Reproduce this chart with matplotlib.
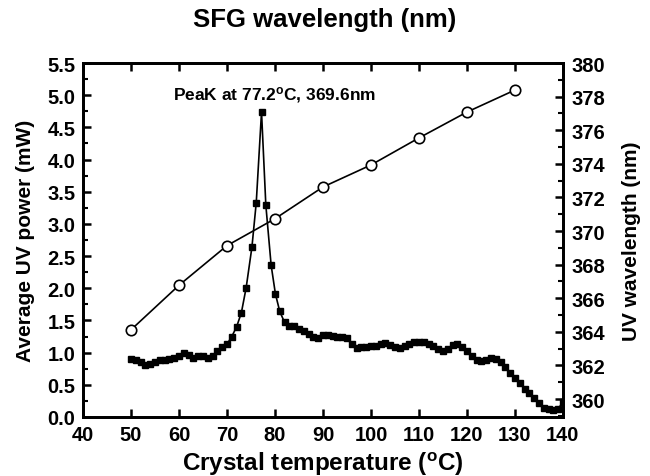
import matplotlib
matplotlib.use("Agg")
import matplotlib.pyplot as plt
from matplotlib.ticker import MultipleLocator

plt.rcParams['font.family'] = ['Liberation Sans', 'DejaVu Sans']
plt.rcParams['font.weight'] = 'bold'
plt.rcParams['mathtext.fontset'] = 'custom'
plt.rcParams['mathtext.rm'] = 'Liberation Sans:bold'
plt.rcParams['mathtext.it'] = 'Liberation Sans:bold'
plt.rcParams['mathtext.bf'] = 'Liberation Sans:bold'

# UV power versus crystal temperature
temperature = [50, 51, 52, 53, 54, 55, 56, 57, 58, 59,
               60, 61, 62, 63, 64, 65, 66, 67, 68, 69,
               70, 71, 72, 73, 74, 75.2, 76.1, 77.2, 78.1, 79.2,
               80.1, 81, 82, 83, 84, 85, 86, 87, 88, 89,
               90, 91, 92, 93, 94, 95, 96, 97, 98, 99,
               100, 101, 102, 103, 104, 105, 106, 107, 108, 109,
               110, 111, 112, 113, 114, 115, 116, 117, 118, 119,
               120, 121, 122, 123, 124, 125, 126, 127, 128, 129,
               130, 131, 132, 133, 134, 135, 136, 137, 138, 139, 140]
power = [0.90, 0.88, 0.85, 0.81, 0.83, 0.86, 0.88, 0.89, 0.90, 0.92,
         0.94, 0.99, 0.97, 0.92, 0.94, 0.95, 0.92, 0.95, 1.02, 1.08,
         1.13, 1.25, 1.40, 1.62, 2.01, 2.64, 3.33, 4.74, 3.29, 2.36,
         1.91, 1.64, 1.47, 1.42, 1.41, 1.37, 1.33, 1.29, 1.25, 1.23,
         1.28, 1.27, 1.26, 1.25, 1.24, 1.22, 1.13, 1.07, 1.08, 1.09,
         1.10, 1.11, 1.13, 1.15, 1.12, 1.09, 1.07, 1.10, 1.13, 1.16,
         1.17, 1.16, 1.13, 1.10, 1.05, 1.02, 1.06, 1.12, 1.13, 1.08,
         1.03, 0.95, 0.88, 0.87, 0.88, 0.92, 0.90, 0.86, 0.77, 0.68,
         0.60, 0.53, 0.44, 0.38, 0.30, 0.22, 0.14, 0.12, 0.11, 0.12, 0.24]

# SFG wavelength versus crystal temperature
wl_temperature = [50, 60, 70, 80, 90, 100, 110, 120, 130]
wavelength = [364.12, 366.77, 369.13, 370.73, 372.62, 373.93, 375.54, 377.08, 378.39]

x_ticks = [40, 50, 60, 70, 80, 90, 100, 110, 120, 130, 140]
left_ticks = [0.0, 0.5, 1.0, 1.5, 2.0, 2.5, 3.0, 3.5, 4.0, 4.5, 5.0, 5.5]
right_ticks = [360, 362, 364, 366, 368, 370, 372, 374, 376, 378, 380]

fig = plt.figure(figsize=(6.5, 4.77), dpi=100)
ax = fig.add_axes([0.1277, 0.1237, 0.7383, 0.7421])
ax2 = ax.twinx()

ax.plot(temperature, power, color='black', lw=1.2, marker='s', ms=4.6,
        mfc='black', mec='black', zorder=3)
ax2.plot(wl_temperature, wavelength, color='black', lw=1.2, marker='o', ms=7.5,
         mfc='white', mec='black', mew=1.2, zorder=3)

ax.set_xlim(40, 140)
ax.set_ylim(0, 5.5)
ax2.set_ylim(358.93, 380)

ax.set_xticks(x_ticks)
ax.set_yticks(left_ticks)
ax.set_yticklabels([f'{v:.1f}' for v in left_ticks])
ax.yaxis.set_minor_locator(MultipleLocator(0.25))
ax2.set_yticks(right_ticks)
ax2.yaxis.set_minor_locator(MultipleLocator(1))

for a in (ax, ax2):
    for s in a.spines.values():
        s.set_linewidth(2.0)

ax.tick_params(axis='x', which='major', direction='in', length=6, width=1.8,
               labelsize=14.5, pad=6, top=True)
ax.tick_params(axis='y', which='major', direction='in', length=6, width=1.8,
               labelsize=14.5, pad=5.5)
ax.tick_params(axis='y', which='minor', direction='in', length=3.5, width=1.5)
ax.tick_params(axis='x', which='minor', bottom=False, top=False)
ax2.tick_params(axis='y', which='major', direction='in', length=6, width=1.8,
                labelsize=14.5, pad=6)
ax2.tick_params(axis='y', which='minor', direction='in', length=3.5, width=1.5)

for lbl in ax.get_xticklabels() + ax.get_yticklabels() + ax2.get_yticklabels():
    lbl.set_fontweight('bold')

ax.set_xlabel(r'Crystal temperature ($^{\rm o}$C)', fontsize=17.5,
              fontweight='bold', labelpad=4)
ax.set_ylabel('Average UV power (mW)', fontsize=15, fontweight='bold', labelpad=9)
ax2.set_ylabel('UV wavelength (nm)', fontsize=15, fontweight='bold', labelpad=12)

fig.text(0.5, 0.958, 'SFG wavelength (nm)', ha='center', va='center',
         fontsize=18.5, fontweight='bold')

ax.text(80.0, 5.02, r'PeaK at 77.2$^{\rm o}$C, 369.6nm', ha='center', va='center',
        fontsize=12.5, fontweight='bold')

fig.savefig('out.png', dpi=100)
